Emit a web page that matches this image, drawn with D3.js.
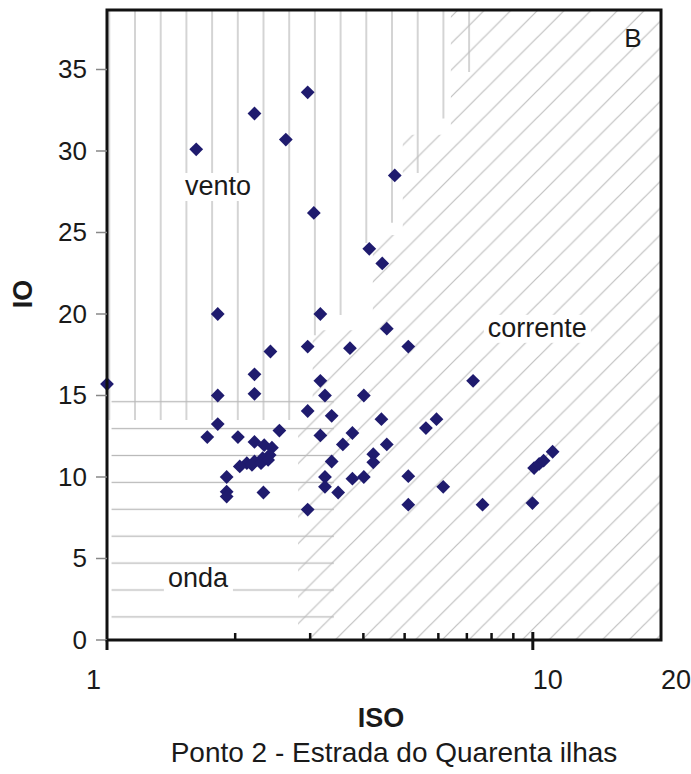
<!DOCTYPE html>
<html>
<head>
<meta charset="utf-8">
<script src="https://cdn.jsdelivr.net/npm/d3@7"></script>
<style>
  body { margin: 0; background: #fff; }
  text { font-family: "Liberation Sans", Arial, sans-serif; fill: #1a1a1a; }
</style>
</head>
<body>
<div id="chart"></div>
<script>
// ISO (x, log) and IO (y)
var iso = [1.00, 1.62, 2.22, 2.96, 2.63, 3.06, 4.74, 4.13, 4.43, 1.82, 3.17, 4.54, 2.96, 3.72, 5.10,
  2.42, 2.22, 3.17, 2.22, 1.82, 3.25, 4.01, 7.24, 2.96, 3.37, 4.41, 5.94, 1.82, 5.61, 2.54,
  3.77, 1.72, 2.03, 3.17, 3.58, 4.54, 4.22, 4.22, 3.37, 1.91, 3.25, 3.77, 4.01, 5.10, 1.91,
  1.91, 2.33, 3.49, 3.25, 6.16, 2.96, 5.10, 7.62, 9.98, 10.07, 10.35, 10.6, 11.13,
  2.22, 2.34, 2.44, 2.41, 2.32, 2.22, 2.13, 2.05, 2.19, 2.30, 2.39]
var io = [15.7, 30.1, 32.3, 33.6, 30.7, 26.2, 28.5, 24.0, 23.1, 20.0, 20.0, 19.1, 18.0, 17.9, 18.0,
  17.7, 16.3, 15.9, 15.1, 15.0, 15.0, 15.0, 15.9, 14.05, 13.75, 13.55, 13.55, 13.25, 13.0, 12.85,
  12.7, 12.45, 12.45, 12.55, 12.0, 12.0, 11.4, 10.9, 10.95, 10.0, 10.0, 9.9, 10.0, 10.05, 9.1,
  8.8, 9.05, 9.05, 9.4, 9.4, 8.0, 8.3, 8.3, 8.4, 10.55, 10.8, 11.0, 11.55,
  12.15, 11.95, 11.8, 11.35, 11.15, 10.95, 10.85, 10.65, 10.75, 10.85, 11.05]

var ioTicks = [0, 5, 10, 15, 20, 25, 30, 35]
var isoMajor = [1, 10]
var isoMinor = [2, 3, 4, 5, 6, 7, 8, 9]
var isoLabels = [1, 10, 20]

// hatched zones, as [ISO, IO] corners
var ventoZone = [[1, 38.65], [7.55, 38.65], [7.55, 34.85], [6.56, 34.85], [6.56, 32.0], [5.71, 32.0],
  [5.71, 28.65], [4.98, 28.65], [4.98, 25.6], [4.33, 25.6], [4.33, 24.35], [3.76, 24.35],
  [3.76, 19.94], [3.26, 19.94], [3.26, 18.7], [2.85, 18.7], [2.85, 13.5], [1, 13.5]]
var ondaZone = [[1.025, 15.1], [3.41, 15.1], [3.41, 0.9], [1.025, 0.9]]
var correnteZone = [[6.42, 38.65], [20, 38.65], [20, 0], [2.81, 0], [2.81, 13.8], [3.04, 13.8],
  [3.04, 19.0], [4.21, 19.0], [4.21, 24.85], [4.95, 24.85], [4.95, 31.0], [6.42, 31.0]]

var zoneLabels = [
  {text: 'vento', iso: 1.525, io: 27.3, bg: true},
  {text: 'corrente', iso: 7.84, io: 18.6, bg: true},
  {text: 'onda', iso: 1.39, io: 3.25, bg: true},
  {text: 'B', iso: 16.4, io: 36.4, bg: false}
]

var width = 691, height = 774

var x = d3.scaleLog().domain([1, 20]).range([107, 661])
var y = d3.scaleLinear().domain([0, 38.65]).range([640, 10])

var svg = d3.select('#chart').append('svg')
  .attr('width', width)
  .attr('height', height)

var defs = svg.append('defs')

defs.append('pattern')
    .attr('id', 'vert')
    .attr('patternUnits', 'userSpaceOnUse')
    .attr('x', 135 - 12.85).attr('y', 0)
    .attr('width', 25.7).attr('height', 10)
  .append('line')
    .attr('x1', 12.85).attr('x2', 12.85).attr('y1', -1).attr('y2', 11)
    .attr('stroke', '#bebebe').attr('stroke-width', 1.3)

defs.append('pattern')
    .attr('id', 'horiz')
    .attr('patternUnits', 'userSpaceOnUse')
    .attr('x', 0).attr('y', 401.7 - 13.45)
    .attr('width', 10).attr('height', 26.9)
  .append('line')
    .attr('x1', -1).attr('x2', 11).attr('y1', 13.45).attr('y2', 13.45)
    .attr('stroke', '#bababa').attr('stroke-width', 1.3)

var diag = defs.append('pattern')
    .attr('id', 'diag')
    .attr('patternUnits', 'userSpaceOnUse')
    .attr('x', 4).attr('y', 10)
    .attr('width', 26.7).attr('height', 26.7)
diag.selectAll('line')
  .data([[0, 26.7, 26.7, 0], [-3, 3, 3, -3], [23.7, 29.7, 29.7, 23.7]])
  .enter().append('line')
    .attr('x1', function(d) { return d[0] }).attr('y1', function(d) { return d[1] })
    .attr('x2', function(d) { return d[2] }).attr('y2', function(d) { return d[3] })
    .attr('stroke', '#c0c0c0').attr('stroke-width', 1.2)

var zone = d3.line()
  .x(function(d) { return x(d[0]) })
  .y(function(d) { return y(d[1]) })

svg.append('path').datum(correnteZone).attr('d', function(d) { return zone(d) + 'Z' }).attr('fill', 'url(#diag)')
svg.append('path').datum(ventoZone).attr('d', function(d) { return zone(d) + 'Z' }).attr('fill', 'url(#vert)')
svg.append('path').datum(ondaZone).attr('d', function(d) { return zone(d) + 'Z' }).attr('fill', 'url(#horiz)')

// zone labels with white box behind
zoneLabels.forEach(function(l) {
  var g = svg.append('g')
  var t = g.append('text')
    .attr('x', x(l.iso))
    .attr('y', y(l.io))
    .attr('font-size', l.bg ? 27 : 26)
    .text(l.text)
  if (l.bg) {
    var b = t.node().getBBox()
    g.insert('rect', 'text')
      .attr('x', b.x - 4).attr('y', b.y + 2)
      .attr('width', b.width + 8).attr('height', b.height - 2)
      .attr('fill', '#fff')
  }
})

// points
var pts = iso.map(function(d, i) { return [d, io[i]] })
svg.append('g').selectAll('path')
  .data(pts)
  .enter().append('path')
    .attr('d', d3.symbol().type(d3.symbolSquare).size(95))
    .attr('transform', function(d) { return 'translate(' + x(d[0]) + ',' + y(d[1]) + ') rotate(45)' })
    .attr('fill', '#1f1b6e')

// frame
svg.append('rect')
  .attr('x', x(1)).attr('y', y(38.65))
  .attr('width', x(20) - x(1)).attr('height', y(0) - y(38.65))
  .attr('fill', 'none').attr('stroke', '#111').attr('stroke-width', 3)

// y ticks
svg.append('g').selectAll('line')
  .data(ioTicks)
  .enter().append('line')
    .attr('x1', 96).attr('x2', x(1))
    .attr('y1', function(d) { return y(d) }).attr('y2', function(d) { return y(d) })
    .attr('stroke', '#888').attr('stroke-width', 1.5)

svg.append('g').selectAll('text')
  .data(ioTicks)
  .enter().append('text')
    .attr('x', 87)
    .attr('y', function(d) { return y(d) + 9 })
    .attr('text-anchor', 'end')
    .attr('font-size', 26)
    .text(function(d) { return d })

// x ticks
svg.append('g').selectAll('line')
  .data(isoMajor)
  .enter().append('line')
    .attr('x1', function(d) { return x(d) }).attr('x2', function(d) { return x(d) })
    .attr('y1', function(d) { return d === 1 ? y(0) : y(0) - 8 }).attr('y2', y(0) + 10)
    .attr('stroke', '#111').attr('stroke-width', 3)

svg.append('g').selectAll('line')
  .data(isoMinor)
  .enter().append('line')
    .attr('x1', function(d) { return x(d) }).attr('x2', function(d) { return x(d) })
    .attr('y1', y(0) - 7).attr('y2', y(0))
    .attr('stroke', '#111').attr('stroke-width', 2.5)

svg.append('g').selectAll('text')
  .data(isoLabels)
  .enter().append('text')
    .attr('x', function(d) { return d === 1 ? x(d) - 6 : x(d) })
    .attr('y', 689)
    .attr('text-anchor', function(d) { return d === 1 ? 'end' : 'start' })
    .attr('font-size', 27)
    .text(function(d) { return d })

// axis titles
svg.append('text')
  .attr('x', 381).attr('y', 727)
  .attr('text-anchor', 'middle')
  .attr('font-size', 27).attr('font-weight', 'bold')
  .text('ISO')

svg.append('text')
  .attr('transform', 'translate(32,294) rotate(-90)')
  .attr('text-anchor', 'middle')
  .attr('font-size', 27).attr('font-weight', 'bold')
  .text('IO')

svg.append('text')
  .attr('x', 394).attr('y', 762)
  .attr('text-anchor', 'middle')
  .attr('font-size', 28)
  .text('Ponto 2 - Estrada do Quarenta ilhas')
</script>
</body>
</html>
